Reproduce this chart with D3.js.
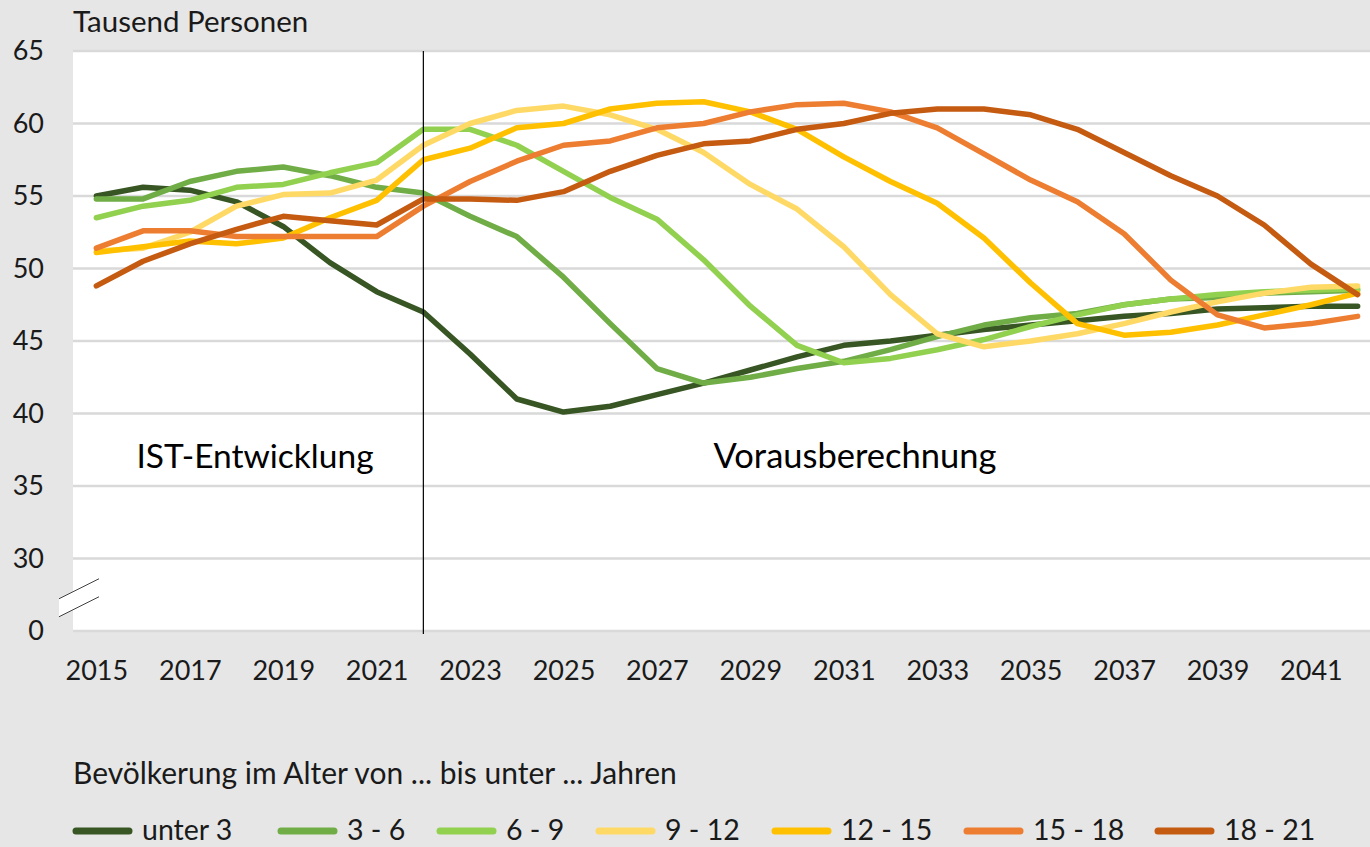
<!DOCTYPE html>
<html>
<head>
<meta charset="utf-8">
<script src="https://cdn.jsdelivr.net/npm/d3@7"></script>
<style>
  body { margin: 0; background: #e6e6e6; }
  svg { display: block; font-family: Lato, "Open Sans", sans-serif; }
</style>
</head>
<body>
<svg id="chart" width="1370" height="847"></svg>
<script>
// years on the x axis
const years = [2015, 2016, 2017, 2018, 2019, 2020, 2021, 2022, 2023, 2024, 2025, 2026, 2027, 2028,
               2029, 2030, 2031, 2032, 2033, 2034, 2035, 2036, 2037, 2038, 2039, 2040, 2041, 2042];
const xTickYears = [2015, 2017, 2019, 2021, 2023, 2025, 2027, 2029, 2031, 2033, 2035, 2037, 2039, 2041];

// broken y axis: the lowest tick stands for 0
const yTicks = [25, 30, 35, 40, 45, 50, 55, 60, 65];
const yTickLabels = ["0", "30", "35", "40", "45", "50", "55", "60", "65"];

// thousand persons per age group
const unter3 = [55.0, 55.6, 55.4, 54.6, 52.9, 50.4, 48.4, 47.0, 44.1, 41.0, 40.1, 40.5, 41.3, 42.1,
                43.0, 43.9, 44.7, 45.0, 45.4, 45.8, 46.1, 46.4, 46.7, 46.9, 47.2, 47.3, 47.4, 47.4];
const age3to6 = [54.8, 54.8, 56.0, 56.7, 57.0, 56.4, 55.6, 55.2, 53.6, 52.2, 49.4, 46.2, 43.1, 42.1,
                 42.5, 43.1, 43.6, 44.4, 45.3, 46.1, 46.6, 46.9, 47.5, 47.9, 48.0, 48.3, 48.4, 48.5];
const age6to9 = [53.5, 54.3, 54.7, 55.6, 55.8, 56.6, 57.3, 59.6, 59.6, 58.5, 56.7, 54.9, 53.4, 50.6,
                 47.4, 44.7, 43.5, 43.8, 44.4, 45.1, 46.0, 46.8, 47.5, 47.9, 48.2, 48.4, 48.5, 48.6];
const age9to12 = [51.2, 51.4, 52.5, 54.3, 55.1, 55.2, 56.1, 58.5, 60.0, 60.9, 61.2, 60.6, 59.6, 58.0,
                  55.8, 54.1, 51.5, 48.2, 45.5, 44.6, 45.0, 45.5, 46.2, 47.0, 47.7, 48.3, 48.7, 48.8];
const age12to15 = [51.1, 51.5, 51.9, 51.7, 52.1, 53.5, 54.7, 57.5, 58.3, 59.7, 60.0, 61.0, 61.4, 61.5,
                   60.8, 59.6, 57.7, 56.0, 54.5, 52.1, 49.0, 46.2, 45.4, 45.6, 46.1, 46.8, 47.5, 48.3];
const age15to18 = [51.4, 52.6, 52.6, 52.2, 52.2, 52.2, 52.2, 54.3, 56.0, 57.4, 58.5, 58.8, 59.7, 60.0,
                   60.8, 61.3, 61.4, 60.8, 59.7, 57.9, 56.1, 54.6, 52.4, 49.2, 46.8, 45.9, 46.2, 46.7];
const age18to21 = [48.8, 50.5, 51.7, 52.7, 53.6, 53.3, 53.0, 54.8, 54.8, 54.7, 55.3, 56.7, 57.8, 58.6,
                   58.8, 59.6, 60.0, 60.7, 61.0, 61.0, 60.6, 59.6, 58.0, 56.4, 55.0, 53.0, 50.3, 48.2];

const seriesNames = ["unter 3", "3 - 6", "6 - 9", "9 - 12", "12 - 15", "15 - 18", "18 - 21"];
const seriesValues = [unter3, age3to6, age6to9, age9to12, age12to15, age15to18, age18to21];
const colors = ["#375623", "#70ad47", "#92d050", "#ffd966", "#ffc000", "#ed7d31", "#c55a11"];

const lastIstYear = 2022;

const svg = d3.select("#chart");

const plot = { left: 73, right: 1381, top: 51, bottom: 631 };

const x = d3.scaleLinear()
    .domain([years[0] - 0.5, years[years.length - 1] + 0.5])
    .range([plot.left, plot.right]);

const y = d3.scaleLinear()
    .domain([25, 65])
    .range([plot.bottom, plot.top]);

// background
svg.append("rect")
    .attr("width", 1370).attr("height", 847)
    .attr("fill", "#e6e6e6");

svg.append("rect")
    .attr("x", plot.left).attr("y", plot.top)
    .attr("width", plot.right - plot.left).attr("height", plot.bottom - plot.top)
    .attr("fill", "#ffffff");

// gridlines
svg.append("g")
    .selectAll("line")
    .data(yTicks)
    .enter()
    .append("line")
    .attr("x1", plot.left).attr("x2", plot.right)
    .attr("y1", d => y(d)).attr("y2", d => y(d))
    .attr("stroke", "#d9d9d9")
    .attr("stroke-width", 2.5);

// y axis
const yAxis = d3.axisLeft(y)
    .tickValues(yTicks)
    .tickFormat((d, i) => yTickLabels[i])
    .tickSize(0)
    .tickPadding(0);

svg.append("g")
    .attr("transform", "translate(44,0)")
    .call(yAxis)
    .call(g => g.select(".domain").remove())
    .selectAll("text")
    .attr("font-family", "Lato, 'Open Sans', sans-serif")
    .attr("font-size", 27)
    .attr("fill", "#1a1a1a");

// x axis
const xAxis = d3.axisBottom(x)
    .tickValues(xTickYears)
    .tickFormat(d3.format("d"))
    .tickSize(0)
    .tickPadding(0);

svg.append("g")
    .attr("transform", "translate(0,661)")
    .call(xAxis)
    .call(g => g.select(".domain").remove())
    .selectAll("text")
    .attr("font-family", "Lato, 'Open Sans', sans-serif")
    .attr("font-size", 27)
    .attr("fill", "#1a1a1a");

// axis break marker between 0 and 30
const breakY = y(27.5);
const breakPts = [[59, breakY + 4], [99, breakY - 16], [99, breakY + 2], [59, breakY + 22]];
svg.append("polygon")
    .attr("points", breakPts.map(p => p.join(",")).join(" "))
    .attr("fill", "#ffffff");
svg.append("line")
    .attr("x1", breakPts[0][0]).attr("y1", breakPts[0][1])
    .attr("x2", breakPts[1][0]).attr("y2", breakPts[1][1])
    .attr("stroke", "#404040").attr("stroke-width", 1);
svg.append("line")
    .attr("x1", breakPts[3][0]).attr("y1", breakPts[3][1])
    .attr("x2", breakPts[2][0]).attr("y2", breakPts[2][1])
    .attr("stroke", "#404040").attr("stroke-width", 1);

// lines
const line = d3.line()
    .x((d, i) => x(years[i]))
    .y(d => y(d));

svg.append("g")
    .selectAll("path")
    .data(seriesValues)
    .enter()
    .append("path")
    .attr("d", d => line(d))
    .attr("fill", "none")
    .attr("stroke", (d, i) => colors[i])
    .attr("stroke-width", 5.5)
    .attr("stroke-linejoin", "round")
    .attr("stroke-linecap", "round");

// separator between observed and projected
svg.append("line")
    .attr("x1", x(lastIstYear)).attr("x2", x(lastIstYear))
    .attr("y1", plot.top).attr("y2", plot.bottom + 3)
    .attr("stroke", "#000000")
    .attr("stroke-width", 1.2);

svg.append("text")
    .attr("x", 255).attr("y", 468)
    .attr("text-anchor", "middle")
    .attr("font-size", 33.5)
    .attr("fill", "#000")
    .text("IST-Entwicklung");

svg.append("text")
    .attr("x", 855).attr("y", 468)
    .attr("text-anchor", "middle")
    .attr("font-size", 34.5)
    .attr("fill", "#000")
    .text("Vorausberechnung");

svg.append("text")
    .attr("x", 73).attr("y", 32)
    .attr("font-size", 29.5)
    .attr("fill", "#1a1a1a")
    .text("Tausend Personen");

// legend
svg.append("text")
    .attr("x", 73).attr("y", 784)
    .attr("font-size", 30)
    .attr("fill", "#1a1a1a")
    .text("Bevölkerung im Alter von ... bis unter ... Jahren");

const legendX = [73, 278, 437, 596, 772, 964, 1155];

const legend = svg.append("g")
    .selectAll("g")
    .data(seriesNames)
    .enter()
    .append("g")
    .attr("transform", (d, i) => `translate(${legendX[i]},831)`);

legend.append("line")
    .attr("x1", 3).attr("x2", 56)
    .attr("stroke", (d, i) => colors[i])
    .attr("stroke-width", 7)
    .attr("stroke-linecap", "round");

legend.append("text")
    .attr("x", 69).attr("y", 9)
    .attr("font-size", 28.5)
    .attr("fill", "#1a1a1a")
    .text(d => d);
</script>
</body>
</html>
